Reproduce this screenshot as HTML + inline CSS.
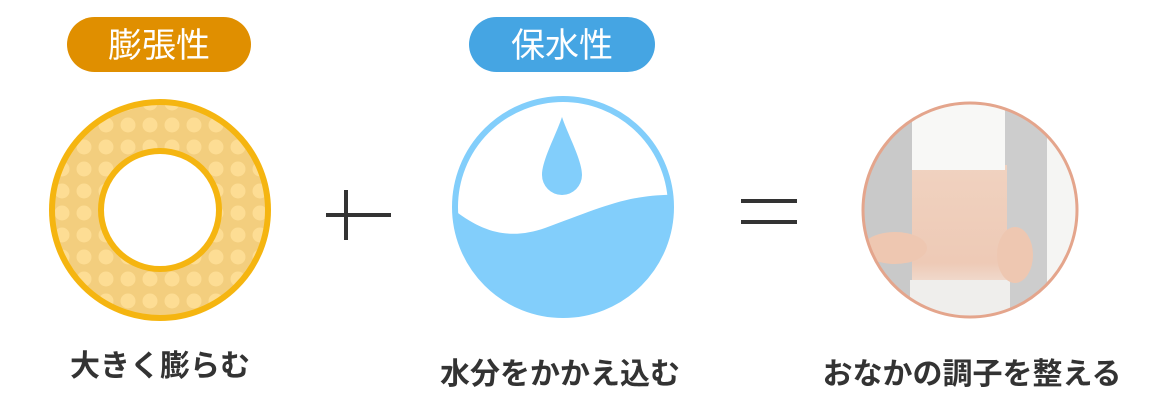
<!DOCTYPE html>
<html><head><meta charset="utf-8"><style>
body{margin:0;width:1156px;height:416px;background:#fff;overflow:hidden;font-family:"Liberation Sans","Noto Sans CJK JP",sans-serif}
.t{position:absolute;font-size:30px;font-weight:bold;color:#333;white-space:nowrap;transform:translateX(-50%);line-height:1}
</style></head><body>
<svg width="1156" height="416" style="position:absolute;left:0;top:0">
<defs>
<pattern id="dots" x="7" y="4" width="22" height="22" patternUnits="userSpaceOnUse">
<rect width="22" height="22" fill="#F3CE7E"/>
<circle cx="11" cy="11" r="7.5" fill="#FDDD94"/>
</pattern>
<clipPath id="wc"><circle cx="563" cy="207" r="108"/></clipPath>
<clipPath id="pc"><circle cx="970" cy="210" r="106"/></clipPath>
<linearGradient id="sk" x1="0" y1="0" x2="0" y2="1">
<stop offset="0" stop-color="#f0d2c0"/><stop offset="0.7" stop-color="#eecab6"/><stop offset="1" stop-color="#f2ece8"/></linearGradient>
</defs>
<rect x="67" y="17" width="184" height="55" rx="27.5" fill="#E08F00"/>
<text x="159" y="57" font-size="34" fill="#fff" text-anchor="middle" font-family="Liberation Sans,Noto Sans CJK JP,sans-serif">膨張性</text>
<rect x="469" y="17" width="186" height="55" rx="27.5" fill="#45A5E3"/>
<text x="562" y="57" font-size="34" fill="#fff" text-anchor="middle" font-family="Liberation Sans,Noto Sans CJK JP,sans-serif">保水性</text>
<circle cx="160" cy="210" r="108" fill="url(#dots)" stroke="#F5B510" stroke-width="6"/>
<circle cx="160" cy="210" r="59" fill="#fff" stroke="#F5B510" stroke-width="6"/>
<path d="M346 190V240M326 215H391" stroke="#333" stroke-width="4" fill="none"/>
<circle cx="563" cy="207" r="108" fill="#fff" stroke="#82CEFB" stroke-width="6"/>
<path clip-path="url(#wc)" d="M440 198 C480 235 510 240 545 228 C600 208 630 193 680 195 L680 330 L440 330Z" fill="#82CEFB"/>
<path d="M562 117 C556 135 542 160 542 175 A20 20 0 0 0 582 175 C582 160 568 135 562 117Z" fill="#82CEFB"/>
<path d="M741 201H797M741 222H797" stroke="#333" stroke-width="4"/>
<g clip-path="url(#pc)">
<rect x="860" y="100" width="220" height="220" fill="#f5f5f3"/>
<rect x="860" y="100" width="52" height="220" fill="#c9c9c9"/>
<rect x="1005" y="100" width="42" height="220" fill="#cdcdcd"/>
<rect x="912" y="165" width="95" height="140" fill="url(#sk)"/>
<rect x="912" y="100" width="93" height="70" fill="#f8f8f6"/>
<rect x="910" y="280" width="100" height="40" fill="#efeeec"/>
<ellipse cx="895" cy="248" rx="32" ry="16" fill="#eec7b1"/>
<ellipse cx="1015" cy="255" rx="18" ry="28" fill="#eec7b1"/>
</g>
<circle cx="970" cy="210" r="107" fill="none" stroke="#E4A58C" stroke-width="3"/>
</svg>
<div class="t" style="left:160px;top:352px">大きく膨らむ</div>
<div class="t" style="left:560px;top:360px">水分をかかえ込む</div>
<div class="t" style="left:972px;top:360px">おなかの調子を整える</div>
</body></html>
